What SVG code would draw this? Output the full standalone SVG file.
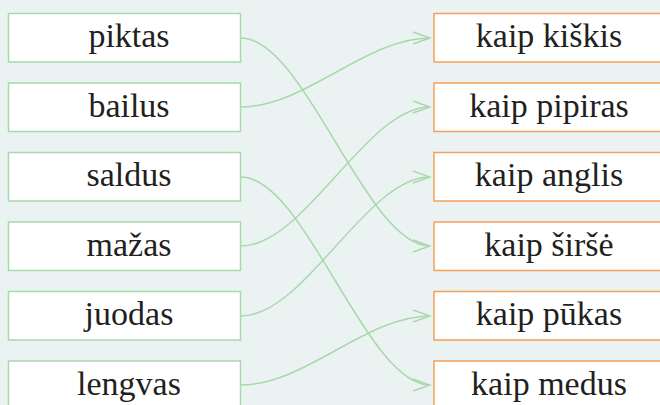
<svg xmlns="http://www.w3.org/2000/svg" width="660" height="405" viewBox="0 0 660 405">
<defs>
<style>
.l rect{fill:#fff;stroke:#a6d9ad;stroke-width:1.5}
.r rect{fill:#fff;stroke:#f5a05a;stroke-width:1.5}
text{font-family:"Liberation Serif","Times New Roman",serif;font-size:34px;fill:#231f20;text-anchor:middle}
#connectors path{fill:none;stroke:#a8d8ac;stroke-width:1.5}
</style>
<marker id="ah" viewBox="0 0 20 14" refX="18" refY="7" markerWidth="20" markerHeight="14" markerUnits="userSpaceOnUse" orient="auto">
<path d="M1,1 L18,7 L1,13" fill="none" stroke="#a8d8ac" stroke-width="1.5"/>
</marker>
</defs>
<rect width="660" height="405" fill="#ebf3f2"/>
<g id="connectors">
<path d="M241,38 C305,38 366,246 430,246" marker-end="url(#ah)"/>
<path d="M241,107 C305,107 366,38 430,38" marker-end="url(#ah)"/>
<path d="M241,177 C305,177 366,385 430,385" marker-end="url(#ah)"/>
<path d="M241,246 C305,246 366,107 430,107" marker-end="url(#ah)"/>
<path d="M241,316 C305,316 366,177 430,177" marker-end="url(#ah)"/>
<path d="M241,385 C305,385 366,316 430,316" marker-end="url(#ah)"/>
</g>
<g id="l1" class="l"><rect x="8.5" y="13.5" width="232" height="48.5"/><text x="129" y="47">piktas</text></g>
<g id="l2" class="l"><rect x="8.5" y="83" width="232" height="48.5"/><text x="129" y="116.5">bailus</text></g>
<g id="l3" class="l"><rect x="8.5" y="152.5" width="232" height="48.5"/><text x="129" y="186">saldus</text></g>
<g id="l4" class="l"><rect x="8.5" y="222" width="232" height="48.5"/><text x="129" y="255.5">mažas</text></g>
<g id="l5" class="l"><rect x="8.5" y="291.5" width="232" height="48.5"/><text x="129" y="325">juodas</text></g>
<g id="l6" class="l"><rect x="8.5" y="361" width="232" height="48.5"/><text x="129" y="394.5">lengvas</text></g>
<g id="r1" class="r"><rect x="434" y="13.5" width="240" height="48.5"/><text x="549" y="47">kaip kiškis</text></g>
<g id="r2" class="r"><rect x="434" y="83" width="240" height="48.5"/><text x="549" y="116.5">kaip pipiras</text></g>
<g id="r3" class="r"><rect x="434" y="152.5" width="240" height="48.5"/><text x="549" y="186">kaip anglis</text></g>
<g id="r4" class="r"><rect x="434" y="222" width="240" height="48.5"/><text x="549" y="255.5">kaip širšė</text></g>
<g id="r5" class="r"><rect x="434" y="291.5" width="240" height="48.5"/><text x="549" y="325">kaip pūkas</text></g>
<g id="r6" class="r"><rect x="434" y="361" width="240" height="48.5"/><text x="549" y="394.5">kaip medus</text></g>
</svg>
